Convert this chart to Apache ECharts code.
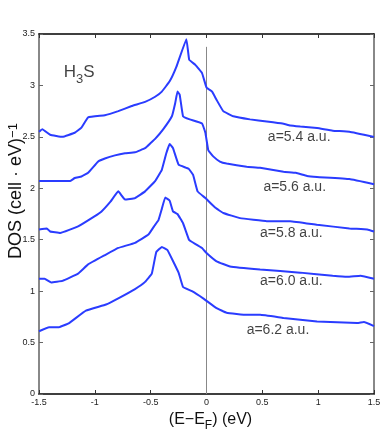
<!DOCTYPE html>
<html>
<head>
<meta charset="utf-8">
<script src="https://cdn.jsdelivr.net/npm/echarts@6/dist/echarts.min.js"></script>
<style>html,body{margin:0;padding:0;background:#fff}#c{width:382px;height:436px}</style>
</head>
<body>
<div id="c"></div>
<script>
// Data arrays (x in eV, DOS values)
const curve54 = [[-1.5,2.55],[-1.47,2.575],[-1.40,2.52],[-1.29,2.50],[-1.18,2.54],[-1.12,2.59],[-1.06,2.69],[-0.91,2.71],[-0.79,2.75],[-0.67,2.80],[-0.55,2.84],[-0.46,2.89],[-0.40,2.94],[-0.33,3.04],[-0.27,3.18],[-0.18,3.45],[-0.155,3.25],[-0.10,3.20],[-0.04,3.12],[0.0,2.98],[0.05,2.94],[0.09,2.86],[0.15,2.75],[0.24,2.70],[0.39,2.67],[0.54,2.65],[0.68,2.63],[0.75,2.61],[0.84,2.60],[0.99,2.585],[1.13,2.56],[1.28,2.55],[1.5,2.50]];
const curve56 = [[-1.5,2.07],[-1.22,2.07],[-1.18,2.10],[-1.12,2.115],[-1.06,2.15],[-0.97,2.26],[-0.91,2.29],[-0.82,2.32],[-0.73,2.34],[-0.64,2.35],[-0.55,2.39],[-0.50,2.44],[-0.46,2.48],[-0.39,2.57],[-0.31,2.70],[-0.28,2.83],[-0.26,2.94],[-0.24,2.91],[-0.21,2.70],[-0.15,2.67],[-0.04,2.63],[-0.01,2.54],[0.016,2.37],[0.06,2.31],[0.12,2.26],[0.18,2.24],[0.36,2.21],[0.48,2.20],[0.69,2.16],[0.80,2.15],[0.90,2.12],[0.99,2.11],[1.28,2.09],[1.5,2.04]];
const curve58 = [[-1.5,1.60],[-1.43,1.61],[-1.40,1.58],[-1.31,1.565],[-1.15,1.63],[-1.00,1.73],[-0.94,1.775],[-0.86,1.87],[-0.79,1.97],[-0.73,1.89],[-0.64,1.905],[-0.55,1.97],[-0.46,2.07],[-0.40,2.18],[-0.36,2.34],[-0.33,2.43],[-0.30,2.39],[-0.25,2.23],[-0.16,2.19],[-0.12,2.13],[-0.08,1.97],[-0.01,1.905],[0.08,1.81],[0.15,1.76],[0.30,1.71],[0.54,1.68],[0.75,1.68],[0.99,1.645],[1.28,1.61],[1.44,1.60],[1.5,1.58]];
const curve60 = [[-1.5,1.12],[-1.45,1.12],[-1.39,1.085],[-1.29,1.10],[-1.15,1.17],[-1.06,1.26],[-0.91,1.35],[-0.79,1.42],[-0.64,1.47],[-0.52,1.55],[-0.47,1.63],[-0.43,1.69],[-0.40,1.80],[-0.37,1.91],[-0.33,1.88],[-0.30,1.775],[-0.26,1.75],[-0.21,1.66],[-0.157,1.50],[-0.133,1.48],[-0.04,1.42],[0.0,1.37],[0.09,1.29],[0.21,1.24],[0.48,1.21],[0.84,1.18],[1.13,1.15],[1.26,1.14],[1.38,1.15],[1.5,1.12]];
const curve62 = [[-1.5,0.61],[-1.41,0.65],[-1.32,0.65],[-1.23,0.69],[-1.08,0.81],[-0.90,0.87],[-0.79,0.93],[-0.64,1.02],[-0.55,1.09],[-0.49,1.17],[-0.45,1.38],[-0.40,1.43],[-0.35,1.40],[-0.25,1.18],[-0.21,1.04],[-0.13,1.00],[-0.03,0.93],[0.09,0.835],[0.18,0.79],[0.36,0.77],[0.48,0.77],[0.69,0.74],[0.99,0.705],[1.35,0.69],[1.41,0.70],[1.5,0.66]];
const fermiLine = [[0,0],[0,3.375]];
const labelNames = ['a=5.4 a.u.','a=5.6 a.u.','a=5.8 a.u.','a=6.0 a.u.','a=6.2 a.u.'];
const labelX = [0.83, 0.79, 0.76, 0.76, 0.64];
const labelY = [2.50, 2.01, 1.565, 1.094, 0.625];
const titlePos = [-1.14, 3.13];

const FONT = "'Liberation Sans Narrow','Liberation Sans',Arial,sans-serif";
const BLUE = '#2a3cff';
const chart = echarts.init(document.getElementById('c'), null, {renderer:'canvas'});

function lineSeries(d){
  return {type:'line', data:d, showSymbol:false, smooth:0.08, lineStyle:{color:BLUE, width:2}, animation:false, z:3};
}

chart.setOption({
  backgroundColor:'#fff',
  animation:false,
  grid:{left:39, right:8, top:34, bottom:42, containLabel:false, outerBoundsMode:'none'},
  graphic:[{
    type:'text', x:16, y:191, rotation:Math.PI/2, z:10,
    style:{text:'{n|DOS (cell · eV)}{s|−1}', align:'center', verticalAlign:'middle',
      rich:{n:{fontSize:18, fontFamily:FONT, fill:'#111', verticalAlign:'bottom'}, s:{fontSize:13, fontFamily:FONT, fill:'#111', verticalAlign:'top'}}}
  }],
  xAxis:[{
    type:'value', min:-1.5, max:1.5, interval:0.5, position:'bottom',
    axisLine:{show:true, onZero:false, lineStyle:{color:'#000', width:1.5}},
    axisTick:{show:true, inside:true, length:4, lineStyle:{color:'#333'}},
    axisLabel:{fontSize:9, color:'#222', fontFamily:FONT, margin:4},
    splitLine:{show:false},
    name:'{n|(E−E}{s|F}{n|) (eV)}', nameLocation:'middle', nameGap:8,
    nameTextStyle:{padding:[0,0,0,8], rich:{n:{fontSize:16, fontFamily:FONT, color:'#111'}, s:{fontSize:12, fontFamily:FONT, color:'#111', padding:[12,0,0,0]}}}
  },{
    type:'value', min:-1.5, max:1.5, interval:0.5, position:'top',
    axisLine:{show:true, onZero:false, lineStyle:{color:'#000', width:1.5}},
    axisTick:{show:true, inside:true, length:4, lineStyle:{color:'#333'}},
    axisLabel:{show:false}, splitLine:{show:false}
  }],
  yAxis:[{
    type:'value', min:0, max:3.5, interval:0.5, position:'left',
    axisLine:{show:true, onZero:false, lineStyle:{color:'#888', width:2}},
    axisTick:{show:true, inside:true, length:4, lineStyle:{color:'#666'}},
    axisLabel:{fontSize:9, color:'#222', fontFamily:FONT, margin:4},
    splitLine:{show:false}
  },{
    type:'value', min:0, max:3.5, interval:0.5, position:'right',
    axisLine:{show:true, onZero:false, lineStyle:{color:'#888', width:2}},
    axisTick:{show:true, inside:true, length:4, lineStyle:{color:'#666'}},
    axisLabel:{show:false}, splitLine:{show:false}
  }],
  series:[
    {type:'line', data:fermiLine, showSymbol:false, lineStyle:{color:'#888', width:1}, z:2, animation:false},
    lineSeries(curve54), lineSeries(curve56), lineSeries(curve58), lineSeries(curve60), lineSeries(curve62),
    {type:'scatter', symbolSize:0, z:5,
     data:labelNames.map((n,i)=>({name:n, value:[labelX[i], labelY[i]]})),
     label:{show:true, position:'inside', formatter:p=>p.name, fontSize:14, fontFamily:FONT, color:'#111'}},
    {type:'scatter', symbolSize:0, z:5,
     data:[{name:'H3S', value:titlePos}],
     label:{show:true, position:'inside', formatter:'{n|H}{s|3}{n|S}',
       rich:{n:{fontSize:17, fontFamily:FONT, color:'#111'}, s:{fontSize:13, fontFamily:FONT, color:'#111', padding:[14,0,0,0]}}}}
  ]
});
</script>
</body>
</html>
